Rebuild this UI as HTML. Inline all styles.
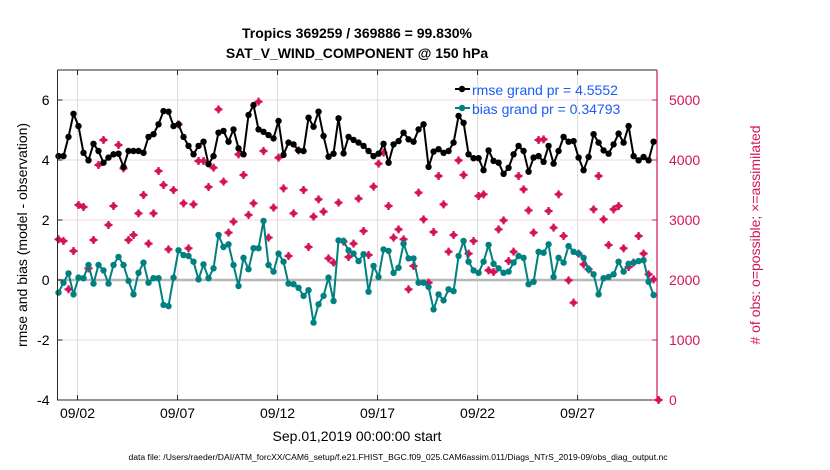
<!DOCTYPE html>
<html><head><meta charset="utf-8">
<style>
html,body{margin:0;padding:0;background:#fff;}
svg{display:block;font-family:"Liberation Sans",Arial,sans-serif;}
</style></head>
<body>
<svg id="chart" width="830" height="470" viewBox="0 0 830 470">
  <text x="357" y="38" text-anchor="middle" font-size="14" font-weight="bold">Tropics 369259 / 369886 = 99.830%</text>
  <text x="357" y="58" text-anchor="middle" font-size="14" font-weight="bold">SAT_V_WIND_COMPONENT @ 150 hPa</text>
  <g id="grid"></g>
  <g id="series"></g>
  <g id="axes"></g>
  <text transform="translate(27,235) rotate(-90)" text-anchor="middle" font-size="14">rmse and bias (model - observation)</text>
  <text transform="translate(760,235) rotate(-90)" text-anchor="middle" font-size="14" fill="#d4145a"># of obs: o=possible; ×=assimilated</text>
  <text x="357" y="441" text-anchor="middle" font-size="14">Sep.01,2019 00:00:00 start</text>
  <text x="398" y="460" text-anchor="middle" font-size="8.6">data file: /Users/raeder/DAI/ATM_forcXX/CAM6_setup/f.e21.FHIST_BGC.f09_025.CAM6assim.011/Diags_NTrS_2019-09/obs_diag_output.nc</text>
  <g>
    <line x1="455" y1="89" x2="470" y2="89" stroke="#000" stroke-width="2"/>
    <circle cx="462" cy="89" r="3.2" fill="#000"/>
    <text x="472" y="95" font-size="14" fill="#1a5cf5">rmse grand pr = 4.5552</text>
    <line x1="455" y1="108" x2="470" y2="108" stroke="#008080" stroke-width="2"/>
    <circle cx="462" cy="108" r="3.2" fill="#008080"/>
    <text x="472" y="114" font-size="14" fill="#1a5cf5">bias grand pr = 0.34793</text>
  </g>
</svg>
<script>
const rmse = [4.13,4.13,4.77,5.54,5.13,4.24,3.99,4.54,4.3,3.91,4.08,4.19,4.21,3.77,4.3,4.3,4.3,4.24,4.77,4.86,5.19,5.63,5.61,5.13,5.19,4.77,4.47,4.19,4.47,4.61,3.86,4.13,4.91,4.97,4.61,5.02,4.39,4.19,5.5,5.83,5.02,4.94,
4.83,4.72,5.3,4.17,4.58,4.52,4.32,4.3,5.41,5.11,5.61,4.8,4.11,4.21,5.39,4.22,4.77,4.67,4.58,4.47,4.3,4.13,4.21,4.54,3.91,4.52,4.63,4.91,4.69,4.61,5.02,5.19,3.77,4.28,4.36,4.24,4.3,4.58,5.47,5.24,
4.19,4.06,4.06,3.66,4.32,3.97,3.91,3.54,3.74,4.19,4.47,4.3,3.61,4.08,4.13,3.94,4.47,3.88,4.3,4.77,4.61,4.63,4.08,3.66,4.1,4.86,4.58,4.32,4.21,4.52,4.88,4.58,5.13,4.13,3.99,4.1,3.99,4.61];
const bias = [-0.42,-0.09,0.22,-0.48,0.08,0.06,0.5,-0.12,0.5,0.32,-0.12,0.5,0.77,0.5,-0.03,-0.48,0.24,0.58,-0.09,0.06,0.06,-0.83,-0.87,0.08,0.99,0.83,0.8,0.61,0.02,0.52,0.06,0.39,1.5,1.1,1.19,0.5,-0.2,0.74,0.36,1.06,1.06,1.97,
0.5,0.28,0.88,0.61,-0.12,-0.14,-0.26,-0.53,-0.34,-1.42,-0.81,-0.53,0.08,-0.7,1.32,1.3,0.99,0.88,0.63,0.86,-0.39,0.47,0.1,1.02,0.97,0.24,0.41,1.21,0.72,0.72,-0.09,-0.09,-0.23,-0.98,-0.48,-0.68,-0.31,-0.37,0.8,1.3,
0.61,0.32,0.24,0.61,1.17,0.54,0.39,0.24,0.28,0.58,0.8,0.74,-0.14,-0.06,0.94,0.91,1.19,0.1,0.74,0.58,1.13,0.94,0.88,0.74,0.36,0.19,-0.48,0.06,0.1,0.19,0.61,0.28,0.54,0.58,0.63,0.66,-0.06,-0.5];
const nobs = [2678,2650,1845,2483,3250,3217,2194,2667,3917,4333,2917,3233,4250,3861,2667,2750,3111,3417,2606,3111,3817,3583,2511,3500,4594,3278,2528,3261,3983,3983,3550,3872,4844,3639,2789,2972,4094,3750,3083,3278,4972,4150,
2706,3206,4039,3528,2400,3111,4161,3500,2550,3056,3344,3139,2361,2289,3289,2639,2383,2606,3356,2817,2417,3556,3939,4122,3233,2706,2844,2678,1845,2233,3456,3011,1956,2800,3733,3261,2472,2750,3994,3750,
2439,2650,3400,3428,2161,2133,2844,2994,2317,2472,3733,3511,3161,2789,4333,4344,3150,2872,3428,2733,1994,1622,2439,2261,2178,3178,3733,3011,2583,3178,3233,2528,2217,2289,2733,2439,2094,2011,0];
const stepDays = 0.25;
const firstDay = 0.05;
const xTickDays = [1,6,11,16,21,26];
const xTickLabels = ["09/02","09/07","09/12","09/17","09/22","09/27"];
const yTicksLeft = [-4,-2,0,2,4,6];
const yTicksRight = [0,1000,2000,3000,4000,5000];

const L=57.5,R=657,T=70,B=400;
const X0=0,X1=29.97,Y0=-4,Y1=7;
function xs(d){return L+(d-X0)/(X1-X0)*(R-L);}
function ys(v){return B-(v-Y0)/(Y1-Y0)*(B-T);}
function yr(c){return ys(c/500-4);}
const NS="http://www.w3.org/2000/svg";
function mk(tag,attrs,parent){const e=document.createElementNS(NS,tag);for(const k in attrs)e.setAttribute(k,attrs[k]);parent.appendChild(e);return e;}
const grid=document.getElementById('grid'),series=document.getElementById('series'),axes=document.getElementById('axes');

for(const v of yTicksLeft){
  if(v===0) continue;
  const g=mk('line',{x1:L,x2:R,y1:ys(v),y2:ys(v),stroke:'#f0d4e0','stroke-width':1},grid);
  
  
}
for(const d of xTickDays){
  const g=mk('line',{x1:xs(d),x2:xs(d),y1:T,y2:B,stroke:'#dcdcdc','stroke-width':1},grid);
  
  
}
const zl=mk('line',{x1:L,x2:R,y1:ys(0),y2:ys(0),stroke:'#b8b8b8','stroke-width':2.5},grid);



nobs.forEach((c,i)=>{
  const cx=xs(firstDay+i*stepDays), cy=yr(c);
  const g=mk('g',{},series);
  
  
  mk('circle',{cx:cx,cy:cy,r:2.8,fill:'#d4145a'},g);
  mk('path',{d:`M${cx-4},${cy}H${cx+4}M${cx},${cy-4}V${cy+4}`,stroke:'#d4145a','stroke-width':2.2},g);
});

function drawLine(arr,color,name){
  const pts=arr.map((v,i)=>xs(firstDay+i*stepDays).toFixed(1)+','+ys(v).toFixed(1)).join(' ');
  const pl=mk('polyline',{points:pts,fill:'none',stroke:color,'stroke-width':2,'stroke-linejoin':'round'},series);
  
  
  arr.forEach((v,i)=>{
    const c=mk('circle',{cx:xs(firstDay+i*stepDays),cy:ys(v),r:3.2,fill:color},series);
    
    
  });
}
drawLine(bias,'#008080','bias');
drawLine(rmse,'#000000','rmse');

const box=mk('path',{d:`M${L},${T}V${B}H${R}M${L},${T}H${R}`,fill:'none',stroke:'#262626','stroke-width':1},axes);


const rax=mk('line',{x1:R,x2:R,y1:T,y2:B,stroke:'#d4145a','stroke-width':1.2},axes);


yTicksLeft.forEach(v=>{
  mk('line',{x1:L,x2:L+5,y1:ys(v),y2:ys(v),stroke:'#262626'},axes);
  const t=mk('text',{x:L-8,y:ys(v)+5,'text-anchor':'end','font-size':14},axes);
  t.textContent=v;
  
  
});
yTicksRight.forEach(c=>{
  mk('line',{x1:R-5,x2:R,y1:yr(c),y2:yr(c),stroke:'#d4145a'},axes);
  const t=mk('text',{x:R+12,y:yr(c)+5,'font-size':14,fill:'#d4145a'},axes);
  t.textContent=c;
  
  
});
xTickDays.forEach((d,i)=>{
  mk('line',{x1:xs(d),x2:xs(d),y1:B,y2:B-5,stroke:'#262626'},axes);
  mk('line',{x1:xs(d),x2:xs(d),y1:T,y2:T+5,stroke:'#262626'},axes);
  const t=mk('text',{x:xs(d),y:418,'text-anchor':'middle','font-size':14},axes);
  t.textContent=xTickLabels[i];
  
  
});
</script>
</body></html>
